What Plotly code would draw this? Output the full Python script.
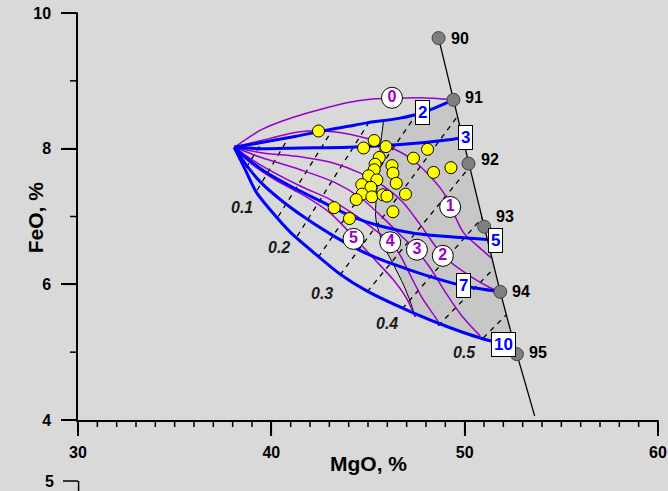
import plotly.graph_objects as go

# ---------------- data (MgO %, FeO %) ----------------
src_mgo, src_feo = 38.08, 8.02

ol_fo = ["90", "91", "92", "93", "94", "95"]
ol_mgo = [48.65, 49.42, 50.20, 51.01, 51.84, 52.70]
ol_feo = [9.63, 8.72, 7.78, 6.85, 5.89, 4.97]
ol_tail_mgo, ol_tail_feo = 53.62, 4.06

blue2_mgo = [38.08, 39.49, 41.22, 42.43, 43.98, 44.94, 46.66, 47.80, 49.42]
blue2_feo = [8.02, 8.09, 8.18, 8.25, 8.33, 8.38, 8.45, 8.53, 8.72]
blue3_mgo = [38.08, 39.48, 41.49, 43.98, 46.66, 49.41, 49.87]
blue3_feo = [8.02, 8.00, 8.01, 8.02, 8.06, 8.14, 8.16]
blue5_mgo = [38.08, 38.81, 39.68, 40.98, 42.53, 44.08, 45.63, 47.44, 49.25, 51.16]
blue5_feo = [8.02, 7.84, 7.66, 7.45, 7.23, 7.01, 6.86, 6.75, 6.70, 6.66]
blue7_mgo = [38.08, 38.70, 39.43, 40.46, 41.75, 43.30, 45.11, 47.18, 48.73, 49.92, 51.84]
blue7_feo = [8.02, 7.76, 7.51, 7.25, 6.98, 6.70, 6.43, 6.21, 6.07, 5.98, 5.89]
blue10_mgo = [38.08, 38.60, 39.22, 39.94, 40.98, 42.27, 43.56, 44.96, 47.34, 49.25, 51.16, 52.51]
blue10_feo = [8.02, 7.72, 7.36, 7.10, 6.77, 6.45, 6.15, 5.90, 5.58, 5.36, 5.18, 5.11]

p0_mgo = [38.08, 39.49, 41.22, 43.98, 45.11, 46.24, 47.70, 49.42]
p0_feo = [8.02, 8.28, 8.47, 8.68, 8.73, 8.74, 8.75, 8.72]
p1_mgo = [38.08, 39.48, 41.49, 43.20, 44.96, 46.25, 47.29, 48.22, 48.89, 49.35, 49.92, 50.65, 51.37]
p1_feo = [8.02, 8.12, 8.25, 8.25, 8.15, 8.01, 7.84, 7.59, 7.36, 7.10, 6.77, 6.57, 6.39]
p2_mgo = [38.08, 39.48, 41.49, 43.20, 44.60, 45.79, 46.77, 47.70, 48.89, 50.28, 51.32, 51.84]
p2_feo = [8.02, 7.94, 7.88, 7.79, 7.64, 7.45, 7.22, 6.88, 6.42, 6.12, 5.95, 5.89]
p3_mgo = [38.08, 39.48, 41.49, 43.30, 44.60, 45.89, 46.92, 47.54, 48.22, 48.99, 49.87, 50.80]
p3_feo = [8.02, 7.87, 7.69, 7.50, 7.28, 6.95, 6.66, 6.49, 6.24, 5.89, 5.53, 5.24]
p4_mgo = [38.08, 39.32, 41.49, 43.05, 44.34, 45.37, 46.15, 46.66, 47.18, 47.80, 48.47, 48.73]
p4_feo = [8.02, 7.78, 7.45, 7.25, 7.02, 6.80, 6.63, 6.43, 6.14, 5.80, 5.52, 5.40]
p5_mgo = [38.08, 38.91, 40.20, 41.75, 43.05, 44.29, 45.37, 46.30, 46.98, 47.44]
p5_feo = [8.02, 7.79, 7.54, 7.30, 7.05, 6.69, 6.36, 6.07, 5.80, 5.52]

bnd_mgo = [45.80, 45.63, 45.49, 45.39, 45.46, 45.80, 46.32, 46.84, 47.18, 47.44]
bnd_feo = [8.40, 8.01, 7.52, 7.02, 6.88, 6.58, 6.29, 5.99, 5.75, 5.52]

dash_mgo0 = [38.70, 39.27, 40.36, 41.34, 42.43, 43.56, 44.96, 46.77, 48.63, 50.96]
dash_feo0 = [7.72, 7.39, 7.00, 6.71, 6.40, 6.14, 5.89, 5.64, 5.39, 5.21]
dash_mgo1 = [39.53, 40.93, 43.10, 45.01, 47.39, 49.61, 50.23, 50.90, 51.53, 52.15]
dash_feo1 = [8.10, 8.18, 8.25, 8.37, 8.46, 8.47, 7.72, 6.98, 6.24, 5.55]

frac_txt = ["0.1", "0.2", "0.3", "0.4", "0.5"]
frac_mgo = [38.50, 40.41, 42.63, 45.99, 50.01]
frac_feo = [7.14, 6.55, 5.87, 5.43, 4.99]

box_txt = ["2", "3", "5", "7", "10"]
box_mgo = [47.82, 50.03, 51.61, 49.94, 51.99]
box_feo = [8.53, 8.16, 6.65, 5.98, 5.12]

circ_txt = ["0", "1", "2", "3", "4", "5"]
circ_mgo = [46.24, 49.25, 48.87, 47.53, 46.15, 44.25]
circ_feo = [8.75, 7.14, 6.42, 6.51, 6.62, 6.67]

yel_mgo = [42.44, 44.77, 45.32, 45.93, 45.58, 47.35, 45.37, 46.24, 45.32, 46.29, 45.03, 45.46, 46.46,
           44.68, 45.15, 44.70, 45.20, 45.77, 45.98, 46.94, 44.39, 43.25, 44.04, 46.29, 48.08, 48.39, 49.29]
yel_feo = [8.26, 8.01, 8.12, 8.03, 7.87, 7.86, 7.77, 7.75, 7.69, 7.64, 7.60, 7.54, 7.49,
           7.47, 7.43, 7.33, 7.29, 7.32, 7.30, 7.33, 7.25, 7.13, 6.97, 7.07, 7.99, 7.65, 7.72]

x_range = [30, 60]
y_range = [4, 10]
x_major = [30, 40, 50, 60]
x_minor = [v for v in range(31, 60) if v % 10 != 0]
y_major = [4, 6, 8, 10]
y_minor = [5, 7, 9]
lower_panel_top_label = "5"

# ---------------- styles ----------------
BG = "#d9d9d9"
SHADE = "#c7c7c7"
BLUE = "#0000ff"
PURPLE = "#9900cc"
FONT = "Liberation Sans, Arial, sans-serif"
SMOOTH = 0.8
ol_label_yshift = [0, 2, 4, 10, 0, 2]

fig = go.Figure()

# shaded region: boundary curve -> blue 10 -> olivine line -> blue 2
poly_x = list(bnd_mgo)
poly_y = list(bnd_feo)
for mx, fy in zip(blue10_mgo, blue10_feo):
    if mx > bnd_mgo[-1]:
        poly_x.append(mx); poly_y.append(fy)
for mx, fy in sorted(zip(ol_mgo, ol_feo), key=lambda p: p[1]):
    if blue10_feo[-1] < fy <= blue2_feo[-1]:
        poly_x.append(mx); poly_y.append(fy)
for mx, fy in reversed(list(zip(blue2_mgo, blue2_feo))):
    if bnd_mgo[0] < mx < blue2_mgo[-1]:
        poly_x.append(mx); poly_y.append(fy)
poly_x.append(bnd_mgo[0]); poly_y.append(bnd_feo[0])
fig.add_trace(go.Scatter(x=poly_x, y=poly_y, mode="lines", fill="toself",
                         fillcolor=SHADE, line=dict(width=0), hoverinfo="skip"))

# dashed fraction lines
for a, b, c, d in zip(dash_mgo0, dash_feo0, dash_mgo1, dash_feo1):
    fig.add_trace(go.Scatter(x=[a, c], y=[b, d], mode="lines",
                             line=dict(color="black", width=1.3, dash="5px,5px")))

# boundary curve
fig.add_trace(go.Scatter(x=bnd_mgo, y=bnd_feo, mode="lines",
                         line=dict(color="black", width=1, shape="spline", smoothing=SMOOTH)))

# purple curves
for xs, ys in [(p0_mgo, p0_feo), (p1_mgo, p1_feo), (p2_mgo, p2_feo),
               (p3_mgo, p3_feo), (p4_mgo, p4_feo), (p5_mgo, p5_feo)]:
    fig.add_trace(go.Scatter(x=xs, y=ys, mode="lines",
                             line=dict(color=PURPLE, width=1.5, shape="spline", smoothing=SMOOTH)))

# blue curves
for xs, ys in [(blue2_mgo, blue2_feo), (blue3_mgo, blue3_feo), (blue5_mgo, blue5_feo),
               (blue7_mgo, blue7_feo), (blue10_mgo, blue10_feo)]:
    fig.add_trace(go.Scatter(x=xs, y=ys, mode="lines",
                             line=dict(color=BLUE, width=3, shape="spline", smoothing=SMOOTH)))

# olivine line
fig.add_trace(go.Scatter(x=ol_mgo + [ol_tail_mgo], y=ol_feo + [ol_tail_feo], mode="lines",
                         line=dict(color="black", width=1.3)))

# yellow samples
fig.add_trace(go.Scatter(x=yel_mgo, y=yel_feo, mode="markers",
                         marker=dict(size=12, color="#ffff00", line=dict(color="black", width=1))))

# olivine points
fig.add_trace(go.Scatter(x=ol_mgo, y=ol_feo, mode="markers",
                         marker=dict(size=13, color="#7f7f7f", line=dict(color="#404040", width=1))))

# circle labels
fig.add_trace(go.Scatter(x=circ_mgo, y=circ_feo, mode="markers+text", text=circ_txt,
                         textposition="middle center",
                         marker=dict(size=21, color="white", line=dict(color="black", width=1)),
                         textfont=dict(family=FONT, size=16, color=PURPLE, weight="bold")))

H = 491
PLOT_H = H - 13
PLOT_W = 668 - 78 - 10
ydom0 = (H - 420) / PLOT_H

ann = []
for t, mx, fy, dy in zip(ol_fo, ol_mgo, ol_feo, ol_label_yshift):
    ann.append(dict(x=mx, y=fy, text=t, showarrow=False, xanchor="left", xshift=10, yshift=dy,
                    font=dict(family=FONT, size=16, color="black", weight="bold")))
for t, mx, fy in zip(box_txt, box_mgo, box_feo):
    ann.append(dict(x=mx, y=fy, text=t, showarrow=False, bgcolor="white", bordercolor="black",
                    borderwidth=1, borderpad=2,
                    font=dict(family=FONT, size=17, color=BLUE, weight="bold")))
for t, mx, fy in zip(frac_txt, frac_mgo, frac_feo):
    ann.append(dict(x=mx, y=fy, text=t, showarrow=False,
                    font=dict(family=FONT, size=16, color="#1a1a1a", weight="bold", style="italic")))
ann.append(dict(xref="paper", yref="paper", x=0.5, y=0.029, text="MgO, %", showarrow=False,
                font=dict(family=FONT, size=21, color="black", weight="bold")))
ann.append(dict(xref="paper", yref="paper", x=-0.097, y=0.573, text="FeO, %", showarrow=False,
                textangle=-90, font=dict(family=FONT, size=21, color="black", weight="bold")))
# top of the (cropped) lower panel's y axis
stub_y = 10 / PLOT_H
ann.append(dict(xref="paper", yref="paper", x=-22 / PLOT_W, y=stub_y, text=lower_panel_top_label,
                showarrow=False, xanchor="right", yanchor="middle",
                font=dict(family=FONT, size=16, color="black", weight="bold")))

TICK = dict(color="black", width=1.5)
shapes = [
    dict(type="line", xref="paper", yref="paper", x0=-15 / PLOT_W, x1=0, y0=stub_y, y1=stub_y,
         line=TICK),
    dict(type="line", xref="paper", yref="paper", x0=0.001, x1=0.001, y0=stub_y, y1=0,
         line=TICK),
]


def xpaper(v):
    return (v - x_range[0]) / (x_range[1] - x_range[0])


def ypaper(v):
    return ydom0 + (v - y_range[0]) / (y_range[1] - y_range[0]) * (1 - ydom0)


for v in x_major:
    shapes.append(dict(type="line", xref="paper", yref="paper", x0=xpaper(v), x1=xpaper(v),
                       y0=ydom0, y1=ydom0 - 14 / PLOT_H, line=TICK))
for v in x_minor:
    shapes.append(dict(type="line", xref="paper", yref="paper", x0=xpaper(v), x1=xpaper(v),
                       y0=ydom0, y1=ydom0 - 7 / PLOT_H, line=TICK))
for v in y_major:
    shapes.append(dict(type="line", xref="paper", yref="paper", x0=0, x1=-15 / PLOT_W,
                       y0=ypaper(v), y1=ypaper(v), line=TICK))
for v in y_minor:
    shapes.append(dict(type="line", xref="paper", yref="paper", x0=0, x1=-8 / PLOT_W,
                       y0=ypaper(v), y1=ypaper(v), line=TICK))

tickfont = dict(family=FONT, size=16, color="black", weight="bold")

fig.update_layout(
    width=668, height=H,
    margin=dict(l=78, r=10, t=13, b=0, autoexpand=False),
    paper_bgcolor=BG, plot_bgcolor=BG,
    showlegend=False,
    annotations=ann,
    shapes=shapes,
    xaxis=dict(range=x_range, tickvals=x_major, showline=True, linecolor="black", linewidth=1.5,
               ticks="outside", ticklen=14, tickwidth=1.5, tickcolor="black", anchor="y",
               automargin=False, showgrid=False, zeroline=False, ticklabelstandoff=3,
               tickfont=tickfont),
    yaxis=dict(range=y_range, domain=[ydom0, 1], tickvals=y_major, showline=True,
               linecolor="black", linewidth=1.5, ticks="outside", ticklen=15, tickwidth=1.5,
               tickcolor="black", anchor="x", automargin=False, showgrid=False, zeroline=False,
               ticklabelstandoff=7, tickfont=tickfont),
)

fig.write_html("out.html")
